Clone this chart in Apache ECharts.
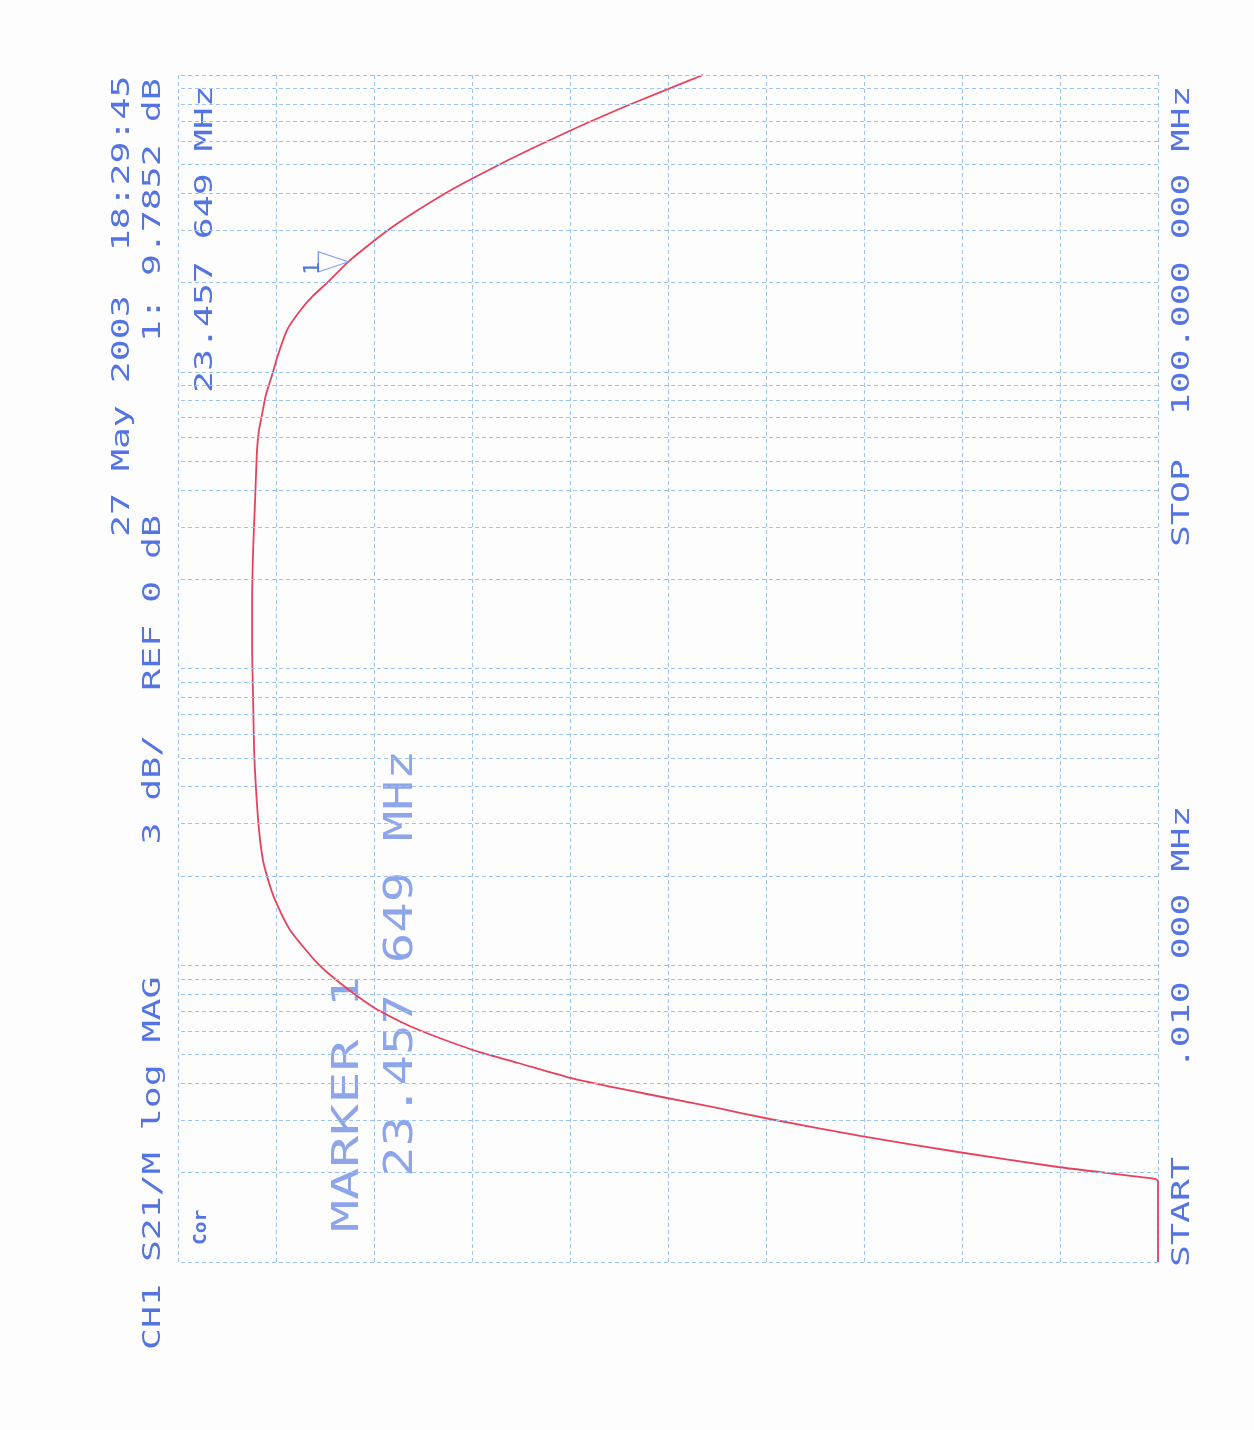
<!DOCTYPE html>
<html>
<head>
<meta charset="utf-8">
<script src="https://cdn.jsdelivr.net/npm/echarts@6/dist/echarts.min.js"></script>
<style>
html,body{margin:0;padding:0;background:#fdfdfd;}
#c{width:1254px;height:1430px;}
</style>
</head>
<body>
<div id="c"></div>
<script>
// ---- data ----
// Swept frequency, MHz (log sweep .010 MHz .. 100 MHz)
const freqMHz = [0.01, 0.01875, 0.01905, 0.0209, 0.02348, 0.02659, 0.03033, 0.03304, 0.0357, 0.03799,
  0.04011, 0.04201, 0.04684, 0.05103, 0.05598, 0.06051, 0.06438, 0.07234, 0.08713, 0.1018,
  0.1315, 0.166, 0.1938, 0.2263, 0.2857, 0.3896, 0.5314, 0.7834, 1.154, 1.701,
  2.507, 3.697, 5.45, 6.364, 7.152, 8.351, 9.75, 11.38, 13.83, 16.02,
  18.0, 20.06, 23.46, 28.23, 31.22, 34.54, 40.04, 44.97, 51.71, 57.2,
  65.27, 69.44, 78.0, 87.6, 100];
// S21 log magnitude, dB (trace clamps at the bottom of the screen, -15 dB)
const magDb = [-15, -15, -14.91, -11.94, -8.88, -5.88, -3.12, -1.5, 0.03, 1.26,
  2.3, 3.09, 4.59, 5.79, 6.83, 7.62, 8.17, 9.03, 10.04, 10.74,
  11.57, 12.03, 12.24, 12.4, 12.52, 12.61, 12.67, 12.7, 12.73, 12.73,
  12.7, 12.64, 12.58, 12.52, 12.43, 12.31, 12.12, 11.94, 11.66, 11.27,
  10.87, 10.41, 9.79, 8.89, 8.35, 7.75, 6.8, 5.96, 4.89, 4.07,
  2.95, 2.41, 1.35, 0.23, -1.07];
// Scale: 3 dB/div, REF 0 dB at centre
const dbMin = -15, dbMax = 15, dbPerDiv = 3;
// Log frequency grid lines, MHz
const logGridMHz = [0.01,0.02,0.03,0.04,0.05,0.06,0.07,0.08,0.09,
  0.1,0.2,0.3,0.4,0.5,0.6,0.7,0.8,0.9,
  1,2,3,4,5,6,7,8,9,
  10,20,30,40,50,60,70,80,90,100];
// Marker 1
const markerFreqMHz = 23.457649;
const markerDb = 9.7852;
// Annotation texts
const textDate = '27 May 2003  18:29:45';
const textChannel = 'CH1 S21/M log MAG      3 dB/  REF 0 dB';
const textMarkerVal = '1: 9.7852 dB';
const textMarkerFreq = '23.457 649 MHz';
const textStart = 'START    .010 000 MHz';
const textStop = 'STOP  100.000 000 MHz';
const textBigMarker = 'MARKER 1';
const textBigFreq = '23.457 649 MHz';
const textCor = 'Cor';

// ---- chart ----
const MONO = '"DejaVu Sans Mono", "Liberation Mono", monospace';
const gridColor = '#9cc6f0';
const textBlue = '#5474e2';
const lightBlue = '#8ea5ea';

function vtext(x, yBottom, str, size, scale, color, weight) {
  return {
    type: 'text', x: x, y: yBottom, rotation: Math.PI / 2, scaleX: scale, scaleY: 1,
    silent: true,
    style: { text: str, fill: color, fontSize: size, fontFamily: MONO, fontWeight: weight || 'normal',
      textAlign: 'left', textVerticalAlign: 'middle', verticalAlign: 'middle' }
  };
}

const chart = echarts.init(document.getElementById('c'), null, { renderer: 'canvas' });
const trace = freqMHz.map((f, i) => [magDb[i], f]);

chart.setOption({
  backgroundColor: '#fdfdfd',
  animation: false,
  grid: { left: 178, top: 75, width: 980, height: 1187, containLabel: false },
  xAxis: {
    type: 'value', min: dbMin, max: dbMax, interval: dbPerDiv, inverse: true,
    axisLine: { show: false }, axisTick: { show: false }, axisLabel: { show: false },
    splitLine: { show: true, lineStyle: { color: gridColor, type: [4, 3], width: 1.1 } }
  },
  yAxis: {
    type: 'log', logBase: 10, min: 0.01, max: 100,
    axisLine: { show: false }, axisTick: { show: false }, axisLabel: { show: false },
    splitLine: { show: false }
  },
  series: [
    {
      type: 'line', name: 'grid', data: [], silent: true,
      markLine: {
        silent: true, symbol: 'none', animation: false,
        label: { show: false },
        lineStyle: { color: gridColor, type: [4, 3], width: 1.1 },
        data: logGridMHz.map(v => ({ yAxis: v }))
      }
    },
    {
      type: 'line', name: 'S21', data: trace, showSymbol: false,
      smooth: 0.2,
      clip: false,
      lineStyle: { color: '#e6415d', width: 1.8 },
      markPoint: {
        silent: true, animation: false,
        symbol: 'triangle', symbolSize: [20, 30], symbolRotate: -90, symbolOffset: [-15, 0],
        itemStyle: { color: 'rgba(0,0,0,0)', borderColor: '#7f9ae8', borderWidth: 1.2 },
        label: { show: true, formatter: '1', position: 'left', rotate: 90, distance: 4,
          color: textBlue, fontSize: 22, fontFamily: MONO },
        data: [{ coord: [markerDb, markerFreqMHz] }]
      }
    }
  ],
  graphic: [
    vtext(122, 537, textDate, 25, 1.46, textBlue),
    vtext(153, 1350, textChannel, 25, 1.46, textBlue),
    vtext(153, 342, textMarkerVal, 25, 1.46, textBlue),
    vtext(205, 393, textMarkerFreq, 25, 1.46, textBlue),
    vtext(1182, 1267, textStart, 25, 1.46, textBlue),
    vtext(1182, 547, textStop, 25, 1.46, textBlue),
    vtext(348, 1232, textBigMarker, 37, 1.44, lightBlue),
    vtext(402, 1177, textBigFreq, 39, 1.3, lightBlue),
    vtext(202, 1245, textCor, 17, 1.15, textBlue, 'bold')
  ]
});
</script>
</body>
</html>
